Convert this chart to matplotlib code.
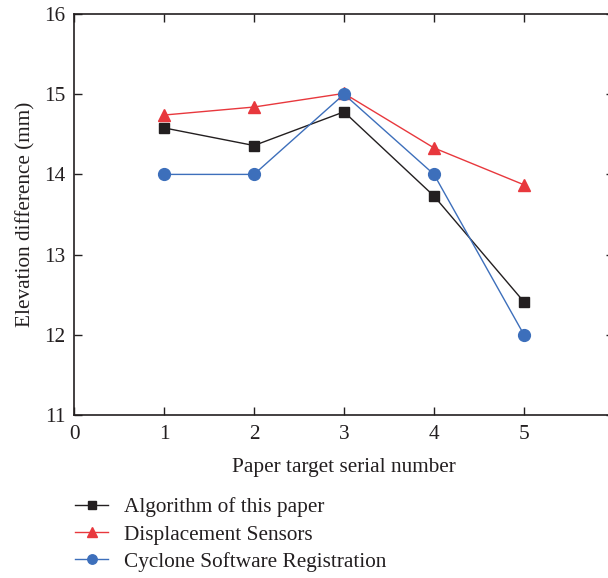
import matplotlib
matplotlib.use("Agg")
import matplotlib.pyplot as plt

# target serial numbers and elevation differences (mm)
targets = [1, 2, 3, 4, 5]
algorithm = [14.58, 14.36, 14.78, 13.73, 12.41]
sensors = [14.74, 14.84, 15.01, 14.33, 13.87]
cyclone = [14.0, 14.0, 15.0, 14.0, 12.0]

labels = ["Algorithm of this paper", "Displacement Sensors",
          "Cyclone Software Registration"]

plt.rcParams["font.family"] = ["Liberation Serif", "DejaVu Serif"]
plt.rcParams["font.size"] = 15.3

fig = plt.figure(figsize=(6.08, 5.78), dpi=100)
ax = fig.add_axes([74 / 608, 1 - 415 / 578, 540 / 608, 401 / 578])

ax.plot(targets, algorithm, color="#231f20", marker="s", markersize=7.5,
        linewidth=1.0, label=labels[0])
ax.plot(targets, sensors, color="#e8383d", marker="^", markersize=8.5,
        linewidth=1.0, label=labels[1])
ax.plot(targets, cyclone, color="#3d6fbb", marker="o", markersize=8.5,
        linewidth=1.0, label=labels[2])

ax.set_xlim(0, 6)
ax.set_ylim(11, 16)
ax.set_xticks([0, 1, 2, 3, 4, 5])
ax.set_yticks([11, 12, 13, 14, 15, 16])
ax.tick_params(direction="in", length=6, width=1, top=True, right=True,
               labelsize=15.3, color="#231f20", labelcolor="#231f20")
ax.tick_params(axis="x", pad=7)
ax.tick_params(axis="y", pad=6)
for s in ax.spines.values():
    s.set_linewidth(1.2)
    s.set_color("#231f20")

ax.set_xlabel("Paper target serial number", color="#231f20", labelpad=10)
ax.set_ylabel("Elevation difference (mm)", color="#231f20", labelpad=6)

fig.legend(loc="upper left", bbox_to_anchor=(0.106, 0.158), frameon=False,
           borderpad=0, handlelength=1.55, handletextpad=0.75,
           labelspacing=0.35, markerscale=0.8, fontsize=15.3,
           labelcolor="#231f20")

fig.savefig("out.png", dpi=100)
